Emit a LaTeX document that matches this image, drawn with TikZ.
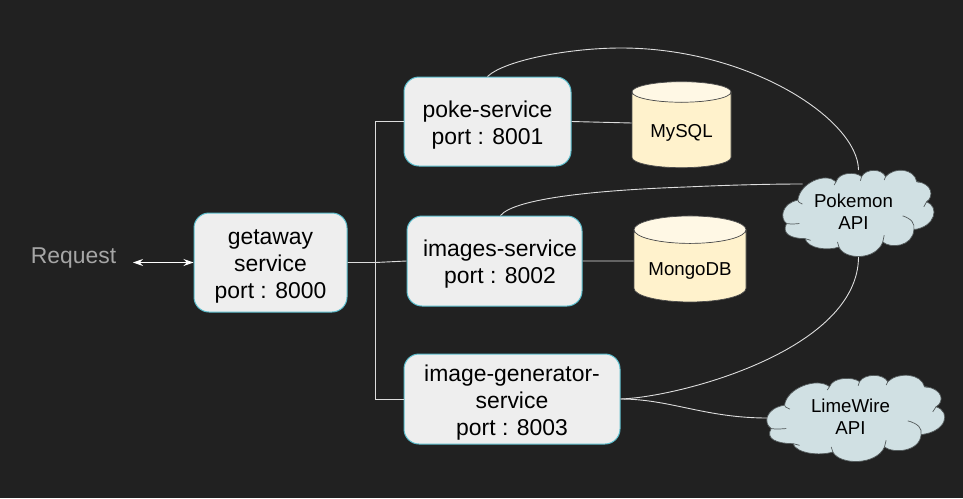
\documentclass[tikz,border=0pt]{standalone}
\usepackage{fontspec}
\setmainfont{Liberation Sans}
\usetikzlibrary{shapes.geometric,arrows.meta}
\definecolor{pagebg}{HTML}{212121}
\definecolor{boxfill}{HTML}{EEEEEE}
\definecolor{boxline}{HTML}{5BBCCB}
\definecolor{dbbody}{HTML}{FFF2CC}
\definecolor{dbtop}{HTML}{FFF8E5}
\definecolor{cloudfill}{HTML}{D0E0E3}
\definecolor{wire}{HTML}{DDDDDD}
\newcommand{\boxgap}{\rule{0pt}{23.5pt}}
\tikzset{
apicloud/.pic={
\draw [cloudfill!40!black, fill=cloudfill, line width=0.7pt] (-256,30)
.. controls (-280,15) and (-275,-30) .. (-216,-40)
.. controls (-210,-90) and (-120,-125) .. (-81,-95)
.. controls (-70,-125) and (-10,-125) .. (9,-110)
.. controls (25,-135) and (80,-135) .. (94,-110)
.. controls (125,-140) and (195,-135) .. (204,-95)
.. controls (260,-90) and (265,-50) .. (239,-35)
.. controls (285,-20) and (270,40) .. (194,48)
.. controls (190,100) and (110,105) .. (84,85)
.. controls (60,140) and (-50,140) .. (-71,100)
.. controls (-110,112) and (-180,105) .. (-191,75)
.. controls (-240,75) and (-275,60) .. (-256,30) -- cycle;
\draw [cloudfill!40!black, line width=0.7pt]
(-256,30) .. controls (-240,32) .. (-211,30)
(-216,-40) .. controls (-215,-35) .. (-200,-28)
(-81,-95) -- (-88,-85)
(9,-110) -- (5,-98)
(94,-110) -- (89,-100)
(204,-95) -- (214,-93)
(239,-35) -- (229,-20)
(154,7) .. controls (185,15) and (198,30) .. (194,48)
(84,85) -- (89,65)
(-71,100) -- (-76,85)
(-191,75) -- (-171,80);
}
}
\begin{document}
\begin{tikzpicture}[
x=1pt, y=-1pt,
servicebox/.style={draw=boxline, fill=boxfill, line width=1pt, rounded corners=15pt,
align=center, inner sep=0pt, font=\fontsize{22.9}{27}\selectfont},
dbbox/.style={cylinder, shape border rotate=90, draw=black!70, line width=0.7pt, aspect=0.33,
cylinder uses custom fill, cylinder body fill=dbbody, cylinder end fill=dbtop,
inner sep=0pt, text height=18pt, font=\fontsize{18.7}{22}\selectfont},
apibox/.style={align=center, inner sep=0pt, font=\fontsize{18.7}{22}\selectfont},
wireline/.style={wire, line width=0.9pt}
]
\fill [pagebg] (0,0) rectangle (963,498);

\node (request) [text=black!35, font=\fontsize{22.9}{27}\selectfont, inner sep=0pt] at (73.5,258) {Request};
\coordinate (requestend) at (133,262.5);
\node (getaway) [servicebox, minimum width=153pt, minimum height=99pt] at (270.5,262.5) {\boxgap getaway\\service\\port : 8000};
\node (poke) [servicebox, minimum width=167pt, minimum height=89pt] at (487.5,121.5) {\boxgap poke-service\\port : 8001};
\node (images) [servicebox, minimum width=175pt, minimum height=90pt] at (494.5,261) {\boxgap\hspace*{11pt}images-service\\\hspace*{11pt}port : 8002};
\node (generator) [servicebox, minimum width=216pt, minimum height=90pt] at (512,399) {\boxgap image-generator-\\service\\port : 8003};

\node (mysql) [dbbox, minimum width=99pt, minimum height=86pt] at (681.5,130) {MySQL};
\node (mongo) [dbbox, minimum width=112pt, minimum height=86pt, text height=22pt] at (690,266) {MongoDB};

\pic [xscale=0.283, yscale=0.335] at (859,213.5) {apicloud};
\pic [xscale=0.333, yscale=0.335] at (856.5,418.5) {apicloud};
\node (pokemon) [apibox] at (853.5,212) {Pokemon\\API};
\node (limewire) [apibox] at (850.5,417) {LimeWire\\API};

% request and gateway
\draw [white, line width=0.9pt, {Stealth[length=10pt,width=7pt]}-{Stealth[length=10pt,width=7pt]}] (requestend) -- (getaway.west);
\draw [wireline] (getaway.east) -- ++(28,0) |- (poke.west);
\draw [wireline] (getaway.east) -- ++(28,0) -- (images.west);
\draw [wireline] (getaway.east) -- ++(28,0) |- (generator.west);

% databases
\draw [wireline] (poke.east) -- ([yshift=7pt]mysql.west);
\draw [wireline] (images.east) -- ([yshift=5pt]mongo.west);

% external apis
\draw [wireline] (poke.north) .. controls (505,60) and (570,48) .. (621,48)
.. controls (750,48) and (858,120) .. ([shift={(5,-42)}]pokemon.center);
\draw [wireline] ([xshift=6pt]images.north) .. controls (515,198) and (600,190) .. (686,187)
.. controls (730,185) and (770,184) .. ([shift={(-51,-28)}]pokemon.center);
\draw [wireline] (generator.east) .. controls (680,397) and (858,350) .. ([shift={(5,45)}]pokemon.center);
\draw [wireline] (generator.east) .. controls (670,399) and (705,418) .. ([shift={(-83,1)}]limewire.center);
\end{tikzpicture}
\end{document}
